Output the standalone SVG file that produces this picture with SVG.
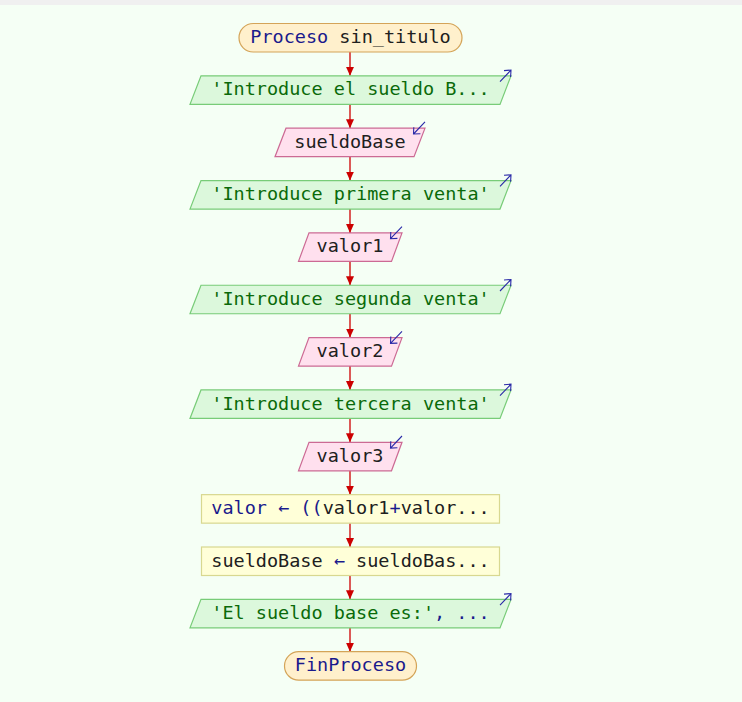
<svg xmlns="http://www.w3.org/2000/svg" width="742" height="702" viewBox="0 0 742 702">
<style>
text{font-family:"DejaVu Sans Mono","Liberation Mono",monospace;font-size:18.5px;text-anchor:middle;fill:#202020}
.term{fill:#fff0cc;stroke:#d4a458;stroke-width:1.2}
.out{fill:#dcf8dc;stroke:#78cc78;stroke-width:1.2}
.in{fill:#ffe0ee;stroke:#cc6a94;stroke-width:1.2}
.proc{fill:#ffffd8;stroke:#d8d890;stroke-width:1.2}
.kw{fill:#1a1a8c}
.str{fill:#0a6a0a}
.io{stroke:#2a2aa8;stroke-width:1.1;fill:none}
.edge{stroke:#cc0000;stroke-width:1.3;fill:none}
</style>
<defs>
<marker id="ah" markerUnits="userSpaceOnUse" markerWidth="10" markerHeight="8" refX="9" refY="4" orient="auto">
<path d="M0,0 L9,4 L0,8 Z" fill="#cc0000"/>
</marker>
</defs>
<rect x="0" y="0" width="742" height="702" fill="#f5fff5"/>
<rect x="0" y="0" width="742" height="5" fill="#f0f0f0"/>
<g id="connectors">
<line class="edge" x1="350" y1="52" x2="350" y2="75.85" marker-end="url(#ah)"/>
<line class="edge" x1="350" y1="104.35" x2="350" y2="128.2" marker-end="url(#ah)"/>
<line class="edge" x1="350" y1="156.7" x2="350" y2="180.55" marker-end="url(#ah)"/>
<line class="edge" x1="350" y1="209.05" x2="350" y2="232.9" marker-end="url(#ah)"/>
<line class="edge" x1="350" y1="261.4" x2="350" y2="285.25" marker-end="url(#ah)"/>
<line class="edge" x1="350" y1="313.75" x2="350" y2="337.6" marker-end="url(#ah)"/>
<line class="edge" x1="350" y1="366.1" x2="350" y2="389.95" marker-end="url(#ah)"/>
<line class="edge" x1="350" y1="418.45" x2="350" y2="442.3" marker-end="url(#ah)"/>
<line class="edge" x1="350" y1="470.8" x2="350" y2="494.65" marker-end="url(#ah)"/>
<line class="edge" x1="350" y1="523.15" x2="350" y2="547" marker-end="url(#ah)"/>
<line class="edge" x1="350" y1="575.5" x2="350" y2="599.35" marker-end="url(#ah)"/>
<line class="edge" x1="350" y1="627.85" x2="350" y2="651.7" marker-end="url(#ah)"/>
</g>
<g id="n0">
<rect class="term" x="239" y="23.5" width="223" height="28.5" rx="14.25"/>
<text x="350.5" y="42.5"><tspan class="kw">Proceso</tspan> sin_titulo</text>
</g>
<g id="n1">
<polygon class="out" points="201,75.85 511,75.85 500,104.35 190,104.35"/>
<path class="io" d="M500,81.6 L511,70.1 M504,70.6 L511,70.1 L510.6,77"/>
<text class="str" x="350.5" y="95.4">'Introduce el sueldo B...</text>
</g>
<g id="n2">
<polygon class="in" points="286,128.2 425,128.2 414,156.7 275,156.7"/>
<path class="io" d="M425,121.9 L413.5,134 M413.8,127.2 L413.5,134 L420.4,133.7"/>
<text x="350" y="147.7">sueldoBase</text>
</g>
<g id="n3">
<polygon class="out" points="201,180.55 511,180.55 500,209.05 190,209.05"/>
<path class="io" d="M500,186.3 L511,174.8 M504,175.3 L511,174.8 L510.6,181.7"/>
<text class="str" x="350.5" y="200.1">'Introduce primera venta'</text>
</g>
<g id="n4">
<polygon class="in" points="309,232.9 402,232.9 391.5,261.4 298.5,261.4"/>
<path class="io" d="M402,226.6 L390.5,238.7 M390.8,231.9 L390.5,238.7 L397.4,238.4"/>
<text x="350" y="252.4">valor1</text>
</g>
<g id="n5">
<polygon class="out" points="201,285.25 511,285.25 500,313.75 190,313.75"/>
<path class="io" d="M500,291 L511,279.5 M504,280 L511,279.5 L510.6,286.4"/>
<text class="str" x="350.5" y="304.8">'Introduce segunda venta'</text>
</g>
<g id="n6">
<polygon class="in" points="309,337.6 402,337.6 391.5,366.1 298.5,366.1"/>
<path class="io" d="M402,331.3 L390.5,343.4 M390.8,336.6 L390.5,343.4 L397.4,343.1"/>
<text x="350" y="357.1">valor2</text>
</g>
<g id="n7">
<polygon class="out" points="201,389.95 511,389.95 500,418.45 190,418.45"/>
<path class="io" d="M500,395.7 L511,384.2 M504,384.7 L511,384.2 L510.6,391.1"/>
<text class="str" x="350.5" y="409.5">'Introduce tercera venta'</text>
</g>
<g id="n8">
<polygon class="in" points="309,442.3 402,442.3 391.5,470.8 298.5,470.8"/>
<path class="io" d="M402,436 L390.5,448.1 M390.8,441.3 L390.5,448.1 L397.4,447.8"/>
<text x="350" y="461.8">valor3</text>
</g>
<g id="n9">
<rect class="proc" x="201.5" y="494.65" width="298" height="28.5"/>
<text x="350.5" y="514.2"><tspan class="kw">valor ← ((</tspan>valor1<tspan class="kw">+</tspan>valor...</text>
</g>
<g id="n10">
<rect class="proc" x="201.5" y="547" width="298" height="28.5"/>
<text x="350.5" y="566.5">sueldoBase <tspan class="kw">←</tspan> sueldoBas...</text>
</g>
<g id="n11">
<polygon class="out" points="201,599.35 511,599.35 500,627.85 190,627.85"/>
<path class="io" d="M500,605.1 L511,593.6 M504,594.1 L511,593.6 L510.6,600.5"/>
<text class="str" x="350.5" y="618.9">'El sueldo base es:'<tspan class="kw">, ...</tspan></text>
</g>
<g id="n12">
<rect class="term" x="284.5" y="651.7" width="132" height="28.5" rx="14.25"/>
<text class="kw" x="350.5" y="671.2">FinProceso</text>
</g>
</svg>
